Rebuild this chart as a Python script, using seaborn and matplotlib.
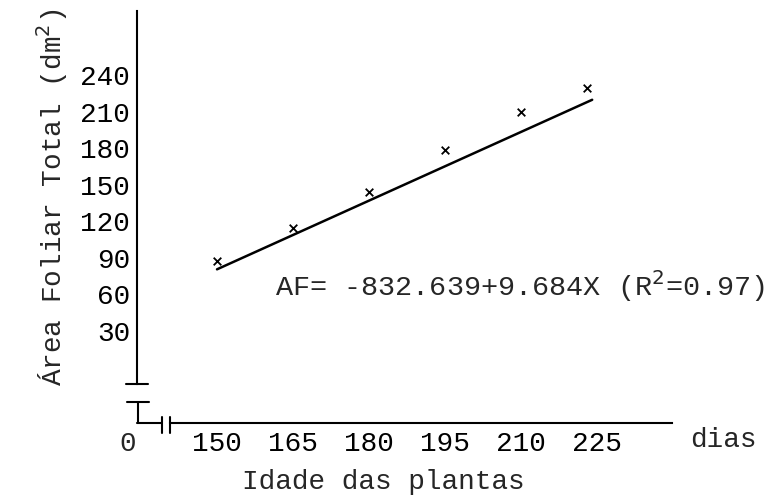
import matplotlib
matplotlib.use("Agg")
import matplotlib.pyplot as plt
import seaborn as sns
import pandas as pd
from matplotlib.lines import Line2D

# ---- data ----
idade = [150, 165, 180, 195, 210, 223]          # days
area = [95, 122, 151, 186, 217, 237]            # dm^2 (observed, 'x' marks)
fit_x = [150, 224]                              # fitted line end points
fit_y = [88, 227]
yticks = [30, 60, 90, 120, 150, 180, 210, 240]
xticks = [150, 165, 180, 195, 210, 225]

sns.set_theme(style="white")
FONT = ["Liberation Mono", "DejaVu Sans Mono"]
plt.rcParams["font.family"] = FONT
FS = 20

W, H = 777, 502
fig = plt.figure(figsize=(W / 100, H / 100), dpi=100)

# axes frame in pixels
left_px, right_px, top_px, bot_px = 137, 672, 12, 424
ax = fig.add_axes([left_px / W, 1 - bot_px / H,
                   (right_px - left_px) / W, (bot_px - top_px) / H])

# pixel scales
xppu = 5.07                     # px per day, 150 -> 217 px
x0 = 150 - (217 - left_px) / xppu
x1 = 150 + (right_px - 217) / xppu
ax.set_xlim(x0, x1)
yppu = 1.2198                   # px per dm2, 135 -> 213 px
y_top = 135 + (213 - top_px) / yppu
y_bot = 135 - (bot_px - 213) / yppu
ax.set_ylim(y_bot, y_top)

df = pd.DataFrame({"idade": idade, "area": area})
fit = pd.DataFrame({"x": fit_x, "y": fit_y})
sns.lineplot(data=fit, x="x", y="y", ax=ax, color="black", lw=1.8)
sns.scatterplot(data=df, x="idade", y="area", ax=ax, marker="x",
                color="black", s=30, linewidth=1.3)

for s in ["top", "right"]:
    ax.spines[s].set_visible(False)
for s in ["left", "bottom"]:
    ax.spines[s].set_color("black")
    ax.spines[s].set_linewidth(1.5)

# axis breaks
cap_upper_px = 385
cap_lower_px = 403
brk1_px, brk2_px = 162, 170


def pxl(x, y):
    return x / W, 1 - y / H


def seg(xa, ya, xb, yb, lw=1.5):
    (fa, ga), (fb, gb) = pxl(xa, ya), pxl(xb, yb)
    fig.add_artist(Line2D([fa, fb], [ga, gb], color="black", lw=lw))


ax.spines["left"].set_bounds(135 - (cap_upper_px - 213) / yppu, y_top)
ax.spines["bottom"].set_bounds(x0 + (brk2_px - left_px) / xppu, x1)
seg(left_px - 11, cap_upper_px, left_px + 11, cap_upper_px)
seg(left_px - 10, cap_lower_px, left_px + 12, cap_lower_px)
seg(left_px + 1, cap_lower_px, left_px + 1, bot_px)
seg(left_px, bot_px, brk1_px, bot_px)
seg(brk1_px, bot_px - 6, brk1_px, bot_px + 10)
seg(brk2_px, bot_px - 6, brk2_px, bot_px + 10)

ax.set_yticks(yticks)
ax.set_yticklabels([str(v) for v in yticks])
ax.set_xticks(xticks)
ax.set_xticklabels([str(v) for v in xticks])
ax.tick_params(axis="y", direction="out", length=5, width=1.2, pad=0,
               labelsize=FS, colors="black")
ax.tick_params(axis="x", direction="inout", length=8, width=1.2, pad=1,
               labelsize=FS, colors="black")
for lbl in ax.get_yticklabels():
    lbl.set_va("baseline")

ax.set_xlabel("")
ax.set_ylabel("")
fig.text(52 / W, 1 - 197 / H, "Área Foliar Total (dm$^{2}$)", rotation=90,
         ha="center", va="center", fontsize=FS, family=FONT)
fig.text(242 / W, 1 - 482 / H, "Idade das plantas", ha="left", va="center",
         fontsize=FS, family=FONT)
fig.text(723 / W, 1 - 440 / H, "dias", ha="center", va="center",
         fontsize=FS, family=FONT)
fig.text(128 / W, 1 - 444 / H, "0", ha="center", va="center",
         fontsize=FS, family=FONT)
fig.text(275 / W, 1 - 286 / H, "AF= -832.639+9.684X (R$^{2}$=0.97)",
         ha="left", va="center", fontsize=20.5, family=FONT)

fig.savefig("out.png", dpi=100)
